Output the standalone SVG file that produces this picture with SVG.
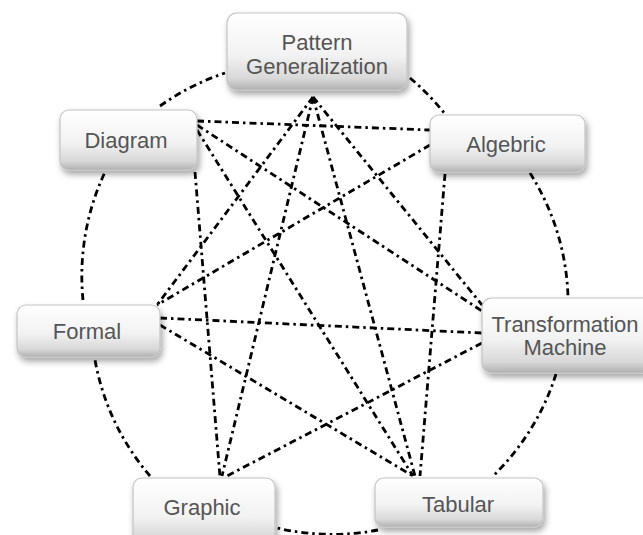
<svg xmlns="http://www.w3.org/2000/svg" width="643" height="535" viewBox="0 0 643 535">
<defs>
<linearGradient id="boxg" x1="0" y1="0" x2="0" y2="1">
<stop offset="0" stop-color="#ffffff"/>
<stop offset="0.55" stop-color="#f2f2f2"/>
<stop offset="0.85" stop-color="#d8d8d8"/>
<stop offset="1" stop-color="#b0b0b0"/>
</linearGradient>
<filter id="sh" x="-10%" y="-10%" width="130%" height="140%">
<feDropShadow dx="2" dy="4" stdDeviation="3" flood-color="#000" flood-opacity="0.35"/>
</filter>
</defs>
<style>
.c{fill:none;stroke:#000;stroke-width:2.8;stroke-dasharray:7 4 2.5 4}
.b{fill:url(#boxg);stroke:#c4c4c4;stroke-width:1.2;filter:url(#sh)}
.t{font-family:"Liberation Sans",Arial,sans-serif;font-size:22px;fill:#555555;text-anchor:middle}
</style>
<rect width="643" height="535" fill="#fff"/>
<g id="connectors">
<path class="c" d="M160,106 A245,245 0 0 1 225,73"/>
<path class="c" d="M410,78 A245,245 0 0 1 445,114"/>
<path class="c" d="M530,173 A245,245 0 0 1 568,297"/>
<path class="c" d="M556,374 A245,245 0 0 1 493,476"/>
<path class="c" d="M378,530 A245,245 0 0 1 277,528"/>
<path class="c" d="M150,476 A245,245 0 0 1 95,360"/>
<path class="c" d="M83,300 A245,245 0 0 1 105,172"/>
<path class="c" d="M313,97 L157,305"/>
<path class="c" d="M313,97 L222,476"/>
<path class="c" d="M313,97 L415,476"/>
<path class="c" d="M313,97 L482,305"/>
<path class="c" d="M197,121 L430,130"/>
<path class="c" d="M197,125 L482,311"/>
<path class="c" d="M197,130 L413,476"/>
<path class="c" d="M195,172 L220,477"/>
<path class="c" d="M430,145 L157,305"/>
<path class="c" d="M445,174 L420,476"/>
<path class="c" d="M160,318 L482,333"/>
<path class="c" d="M160,325 L413,476"/>
<path class="c" d="M482,343 L225,477"/>
</g>
<g id="pattern">
<rect class="b" x="227" y="13" width="180" height="77" rx="10"/>
<text class="t" x="317" y="50">Pattern</text>
<text class="t" x="317" y="74">Generalization</text>
</g>
<g id="diagram">
<rect class="b" x="60" y="110" width="137" height="60" rx="9"/>
<text class="t" x="126" y="148">Diagram</text>
</g>
<g id="algebric">
<rect class="b" x="430" y="115" width="155" height="57" rx="9"/>
<text class="t" x="506" y="152">Algebric</text>
</g>
<g id="formal">
<rect class="b" x="17" y="305" width="143" height="52" rx="9"/>
<text class="t" x="87" y="339">Formal</text>
</g>
<g id="transformation">
<rect class="b" x="482" y="298" width="175" height="75" rx="10"/>
<text class="t" x="565" y="332">Transformation</text>
<text class="t" x="565" y="355">Machine</text>
</g>
<g id="graphic">
<rect class="b" x="133" y="478" width="142" height="70" rx="9"/>
<text class="t" x="202" y="515">Graphic</text>
</g>
<g id="tabular">
<rect class="b" x="375" y="478" width="168" height="49" rx="9"/>
<text class="t" x="458" y="512">Tabular</text>
</g>
</svg>
